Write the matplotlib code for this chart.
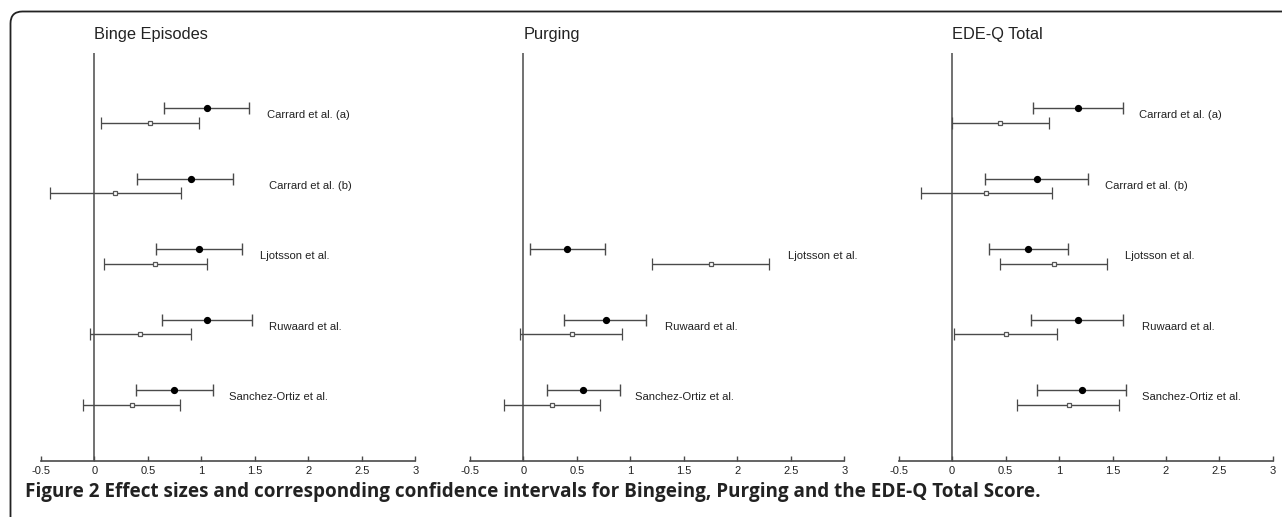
import matplotlib
matplotlib.use("Agg")
import matplotlib.pyplot as plt
from matplotlib.patches import PathPatch
from matplotlib.path import Path
from matplotlib.transforms import IdentityTransform, blended_transform_factory

# ---------------- data ----------------
panel_titles = ["Binge Episodes", "Purging", "EDE-Q Total"]
studies = ["Carrard et al. (a)", "Carrard et al. (b)", "Ljotsson et al.",
           "Ruwaard et al.", "Sanchez-Ortiz et al."]

# filled (black) estimates: [est, lo, hi] per study; None = not reported
binge_filled = [[1.05, 0.65, 1.45], [0.90, 0.40, 1.30], [0.98, 0.58, 1.38],
                [1.05, 0.63, 1.47], [0.74, 0.39, 1.11]]
binge_open = [[0.52, 0.06, 0.98], [0.19, -0.42, 0.81], [0.57, 0.09, 1.05],
              [0.43, -0.04, 0.90], [0.35, -0.11, 0.80]]

purge_filled = [None, None, [0.41, 0.06, 0.76], [0.77, 0.38, 1.15], [0.56, 0.22, 0.90]]
purge_open = [None, None, [1.75, 1.20, 2.30], [0.45, -0.03, 0.92], [0.27, -0.18, 0.72]]

edeq_filled = [[1.18, 0.76, 1.60], [0.79, 0.31, 1.27], [0.71, 0.34, 1.08],
               [1.18, 0.74, 1.60], [1.21, 0.79, 1.63]]
edeq_open = [[0.45, 0.0, 0.91], [0.32, -0.29, 0.93], [0.95, 0.45, 1.45],
             [0.50, 0.02, 0.98], [1.09, 0.61, 1.56]]

# label x positions (data units) per panel
binge_label_x = [1.61, 1.63, 1.55, 1.63, 1.26]
purge_label_x = [None, None, 2.47, 1.32, 1.04]
edeq_label_x = [1.75, 1.43, 1.62, 1.78, 1.78]

xticks = [-0.5, 0, 0.5, 1, 1.5, 2, 2.5, 3]
xticklabels = ["-0.5", "0", "0.5", "1", "1.5", "2", "2.5", "3"]

caption = ("Figure 2 Effect sizes and corresponding confidence intervals for "
           "Bingeing, Purging and the EDE-Q Total Score.")

# ---------------- figure ----------------
W, H = 1282, 517
DPI = 100
fig = plt.figure(figsize=(W / DPI, H / DPI), dpi=DPI)

FONT = "Liberation Sans"
LINE = "#4a4a4a"

panels = [
    (panel_titles[0], binge_filled, binge_open, binge_label_x, 41),
    (panel_titles[1], purge_filled, purge_open, purge_label_x, 470),
    (panel_titles[2], edeq_filled, edeq_open, edeq_label_x, 898.7),
]

ax_bottom_px = 460.7
ax_top_px = 53
ax_width_px = 374.2
n = len(studies)
row_gap_open = 0.203
ytop = 5.785

for title, filled, opened, labx, left_px in panels:
    ax = fig.add_axes([left_px / W, 1 - ax_bottom_px / H,
                       ax_width_px / W, (ax_bottom_px - ax_top_px) / H])
    ax.set_xlim(-0.5, 3)
    ax.set_ylim(0, ytop)
    for s in ["top", "right", "left"]:
        ax.spines[s].set_visible(False)
    ax.spines["bottom"].set_color(LINE)
    ax.spines["bottom"].set_linewidth(1.2)
    ax.set_yticks([])
    ax.set_xticks(xticks)
    ax.set_xticklabels(xticklabels, fontsize=8.0, family=FONT, color="#222222")
    ax.tick_params(axis="x", direction="in", length=3.5, width=1, color=LINE, pad=4)
    ax.axvline(0, color=LINE, lw=1.1, zorder=1)

    for i, name in enumerate(studies):
        yf = n - i
        yo = yf - row_gap_open
        f = filled[i]
        o = opened[i]
        if f is not None:
            ax.errorbar([f[0]], [yf], xerr=[[f[0] - f[1]], [f[2] - f[0]]],
                        fmt="o", color="black", ecolor=LINE, elinewidth=1.0,
                        capsize=4, capthick=1.0, markersize=4.2, zorder=3)
        if o is not None:
            ax.errorbar([o[0]], [yo], xerr=[[o[0] - o[1]], [o[2] - o[0]]],
                        fmt="s", mfc="white", mec="#555555", mew=0.9,
                        ecolor=LINE, elinewidth=1.0, capsize=4, capthick=1.0,
                        markersize=3.2, zorder=3)
        if labx[i] is not None:
            ax.text(labx[i], yf - row_gap_open / 2, name, fontsize=8.1,
                    family=FONT, color="#222222", va="center", ha="left")

    tr = blended_transform_factory(ax.transData, fig.transFigure)
    ax.text(0, 1 - 35 / H, title, transform=tr, fontsize=11.8, family=FONT,
            color="#222222", va="center", ha="left")

fig.text(25 / W, 1 - 492 / H, caption, fontsize=13.6, family="Open Sans",
         weight="bold", color="#222222", va="center", ha="left")

# decorative frame: left edge + rounded top-left corner + top edge
fx, fy, r = 10.5, H - 11.5, 12
verts = [(fx, -5), (fx, fy - r), (fx, fy), (fx + r, fy), (W + 10, fy)]
codes = [Path.MOVETO, Path.LINETO, Path.CURVE3, Path.CURVE3, Path.LINETO]
frame = PathPatch(Path(verts, codes), transform=IdentityTransform(),
                  fill=False, edgecolor="#222222", lw=1.3)
fig.patches.append(frame)

fig.savefig("out.png", dpi=DPI)
